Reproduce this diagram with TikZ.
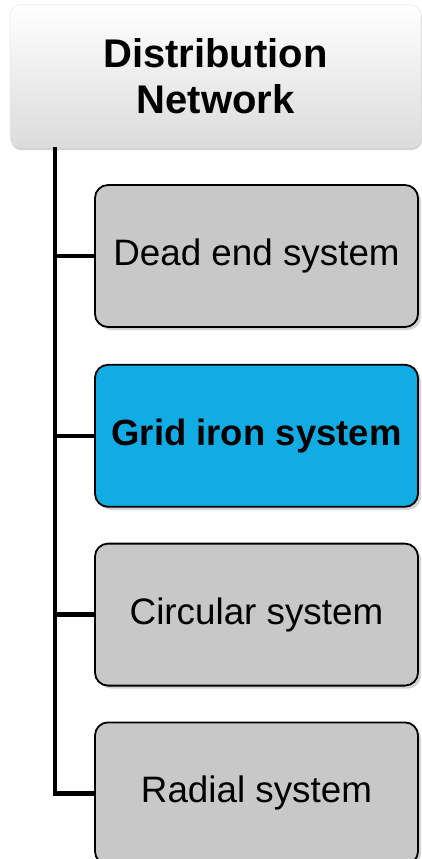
\documentclass[tikz,border=0pt]{standalone}
\usepackage{fontspec}
\setmainfont{Liberation Sans}
\usetikzlibrary{positioning,shadows}

\definecolor{boxgray}{HTML}{C8C8C8}
\definecolor{gridblue}{HTML}{12ACE4}

\begin{document}
\begin{tikzpicture}[
    x=1pt, y=1pt,
    head/.style={rounded corners=10pt, align=center,
      minimum width=411pt, minimum height=142pt, inner sep=0pt,
      top color=white, bottom color=gray!28, draw=gray!20, line width=0.5pt,
      drop shadow={shadow xshift=1pt, shadow yshift=-3pt, opacity=0.35},
      font=\fontsize{40}{46}\selectfont\bfseries},
    leaf/.style={draw=black, line width=1.8pt, rounded corners=13pt,
      fill=boxgray, align=center, minimum width=323pt, minimum height=142pt,
      inner sep=0pt,
      drop shadow={shadow xshift=3pt, shadow yshift=-3pt, opacity=0.35},
      font=\fontsize{36.8}{43}\selectfont},
    link/.style={draw=black, line width=4.5pt},
  ]
    \useasboundingbox (0,0) rectangle (421,-859);
    \node[head] (dist) at (215.5,-76) {Distribution\\Network};
    \node[leaf] (dead) at (256.5,-256) {Dead end system};
    \node[leaf, fill=gridblue, font=\fontsize{36.5}{43}\selectfont\bfseries,
      below=36pt of dead] (grid) {Grid iron system};
    \node[leaf, below=35pt of grid] (circ) {Circular system};
    \node[leaf, below=35pt of circ] (radial) {Radial system};
    \coordinate (spine) at (55,-147);
    \draw[link] (spine) |- (radial.west);
    \draw[link] (spine |- dead.west) -- (dead.west);
    \draw[link] (spine |- grid.west) -- (grid.west);
    \draw[link] (spine |- circ.west) -- (circ.west);
  \end{tikzpicture}
\end{document}
